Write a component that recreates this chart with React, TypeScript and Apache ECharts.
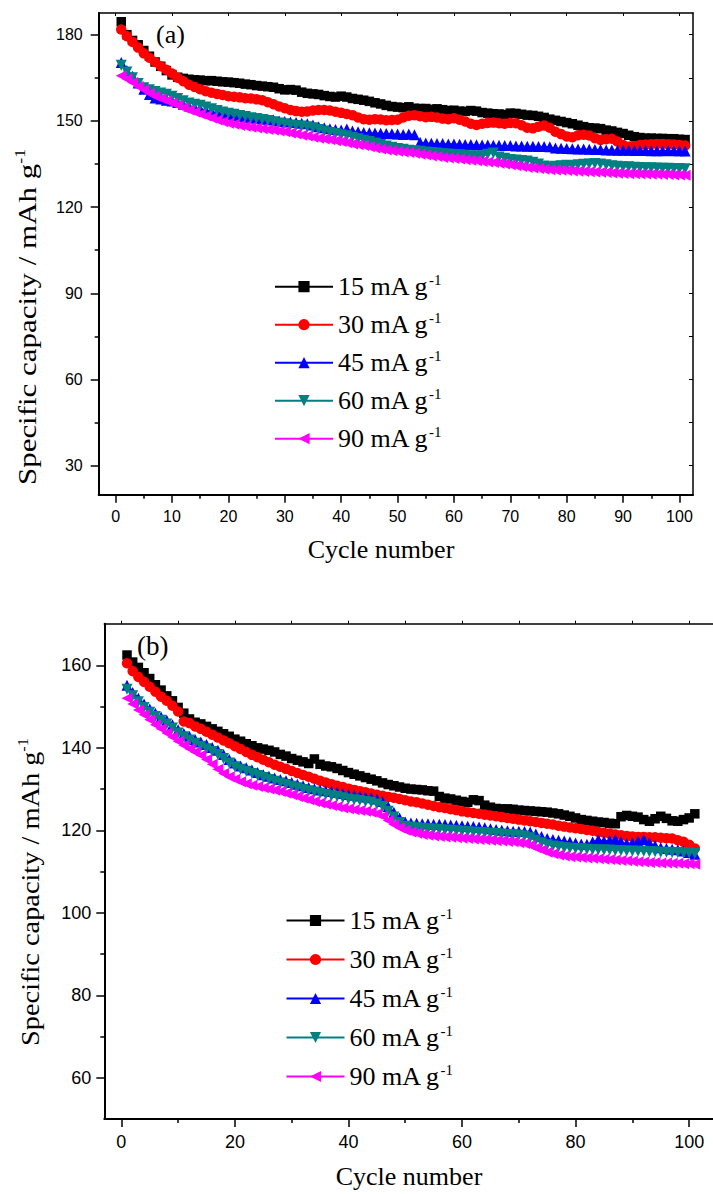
import React, { useEffect, useRef } from "react";
import * as echarts from "echarts";

const FONT_SERIF = "Liberation Serif, Times New Roman, serif";
const FONT_SANS = "Liberation Sans, Arial, sans-serif";

// x categories: cycle numbers 1..101
const cycles: number[] = Array.from({ length: 101 }, (_, i) => i + 1);

const seriesNames = ["15 mA g-1", "30 mA g-1", "45 mA g-1", "60 mA g-1", "90 mA g-1"];
const colors = ["#000000", "#ff0000", "#0000ff", "#008080", "#ff00ff"];
const symbols = ["rect", "circle", "triangle", "triangle", "triangle"];
const symbolRotations = [0, 0, 0, 180, 90];
const symbolSizes = [9.5, 10.5, 11, 11, 11];

// Tick values
const topXTicks = [0, 10, 20, 30, 40, 50, 60, 70, 80, 90, 100];
const topXMinor = [5, 15, 25, 35, 45, 55, 65, 75, 85, 95];
const topYTicks = [30, 60, 90, 120, 150, 180];
const topYMinor = [45, 75, 105, 135, 165];
const topYRight = [30, 45, 60, 75, 90, 105, 120, 135, 150, 165, 180];
const botXTicks = [0, 20, 40, 60, 80, 100];
const botXMinor = [10, 30, 50, 70, 90];
const botXTop = [0, 10, 20, 30, 40, 50, 60, 70, 80, 90, 100];
const botYTicks = [60, 80, 100, 120, 140, 160];
const botYMinor = [70, 90, 110, 130, 150];

// (a) panel data
const a15 = [184.5,180.0,178.0,176.5,174.5,172.5,170.5,169.0,167.5,166.0,
165.2,164.8,164.5,164.3,164.2,164.0,164.0,163.8,163.6,163.5,
163.3,163.1,162.8,162.6,162.3,162.1,161.9,161.7,161.2,160.8,
160.9,160.7,160.0,159.6,159.4,159.2,158.8,158.5,158.3,158.6,
158.3,157.8,157.5,157.2,156.8,156.3,155.9,155.4,155.0,154.8,
154.6,154.9,154.4,154.3,154.3,154.0,154.2,153.9,153.6,153.7,
153.4,153.3,153.6,153.4,152.9,152.7,152.5,152.4,152.2,152.7,
152.6,152.3,152.0,151.9,151.6,151.2,150.6,150.2,149.8,149.4,
149.0,148.5,148.0,147.6,147.5,147.3,146.8,146.5,146.0,145.6,
145.0,144.5,144.2,144.0,144.0,143.9,143.9,143.8,143.8,143.6,
143.5];
const a30 = [181.8,179.5,177.5,175.5,173.5,172.0,170.5,169.0,167.8,166.5,
165.0,163.8,162.6,161.8,161.0,160.3,159.8,159.4,159.0,158.6,
158.4,158.2,157.9,157.8,157.5,157.2,156.5,155.8,155.0,154.4,
153.8,153.4,153.2,153.3,153.6,153.8,153.8,153.6,153.2,152.8,
152.4,152.0,151.2,150.6,150.4,150.6,150.5,150.2,150.3,150.4,
151.2,151.8,152.0,151.6,151.3,151.4,151.2,150.8,150.6,150.9,
150.4,149.8,149.0,148.6,149.0,149.3,149.4,149.2,149.0,149.3,
149.2,148.5,147.6,147.4,148.0,148.4,147.6,146.2,145.4,144.6,
144.3,145.0,145.2,144.9,144.0,143.4,143.6,143.8,142.8,141.6,
141.0,141.3,141.6,141.8,141.9,142.0,142.0,141.9,141.8,141.6,
141.4];
const a45 = [170.3,167.5,165.5,163.2,161.0,159.2,158.0,157.6,157.2,156.9,
156.4,155.8,155.2,154.7,154.2,153.8,153.3,152.9,152.6,152.2,
151.9,151.6,151.3,151.1,150.9,150.7,150.6,150.3,150.0,149.8,
149.6,149.4,149.2,149.0,148.6,148.0,147.6,147.3,147.0,146.8,
147.2,146.5,146.2,146.0,145.9,145.8,145.7,145.6,145.5,145.4,
145.3,145.4,145.2,142.6,142.3,142.2,142.1,142.1,142.0,142.0,
141.9,141.8,141.8,141.7,141.6,141.6,141.5,141.5,141.4,141.4,
141.3,141.3,141.2,141.2,141.1,141.1,141.0,140.6,140.5,140.4,
140.3,140.2,140.2,140.1,140.0,140.0,139.9,139.9,139.8,139.8,
139.8,139.7,139.7,139.7,139.6,139.6,139.6,139.7,139.6,139.6,
139.5];
const a60 = [169.4,167.0,165.0,163.0,161.5,160.8,160.2,159.7,159.3,158.6,
157.8,157.0,156.2,155.8,155.4,154.8,154.2,153.6,153.1,152.7,
152.3,151.9,151.5,151.1,150.8,150.5,150.1,149.7,149.3,149.0,
148.6,148.4,148.2,148.0,147.6,147.0,146.5,146.0,145.6,145.2,
144.8,144.3,143.8,143.3,142.8,142.3,141.8,141.3,140.8,140.4,
140.1,139.8,139.6,139.4,139.2,139.0,138.8,138.6,138.5,138.3,
138.2,138.0,137.9,137.8,137.7,138.4,138.8,137.4,137.0,136.6,
136.4,136.2,136.0,135.6,135.0,134.3,134.0,134.2,134.4,134.6,
134.5,134.7,134.9,135.0,135.2,135.0,134.7,134.4,134.2,134.0,
134.0,133.9,133.8,133.7,133.7,133.6,133.5,133.5,133.4,133.4,
133.3];
const a90 = [165.7,164.6,163.4,162.0,160.8,159.6,158.6,157.8,157.0,156.2,
155.4,154.6,153.8,153.1,152.4,151.7,151.0,150.3,149.7,149.2,
148.8,148.4,148.1,147.8,147.5,147.3,147.0,146.8,146.5,146.2,
145.8,145.4,145.0,144.7,144.3,144.0,143.7,143.4,143.1,142.8,
142.4,142.0,141.7,141.4,141.0,140.6,140.2,139.9,139.6,139.4,
139.2,139.0,138.7,138.4,138.1,137.8,137.6,137.3,137.1,136.9,
136.7,136.5,136.3,136.1,135.9,135.7,135.5,135.3,135.0,134.7,
134.4,134.1,133.8,133.6,133.4,133.2,133.0,132.9,132.8,132.7,
132.6,132.5,132.4,132.3,132.2,132.1,132.0,131.9,131.8,131.7,
131.6,131.6,131.5,131.5,131.4,131.4,131.3,131.3,131.2,131.2,
131.1];

// (b) panel data
const b15 = [162.5,160.8,159.5,158.2,156.8,155.3,154.0,152.6,151.4,149.8,
148.4,147.0,146.2,145.8,145.2,144.6,144.0,143.4,142.8,142.1,
141.6,141.0,140.5,140.0,139.7,139.4,139.0,138.4,138.0,137.4,
137.0,136.6,136.2,137.3,136.0,135.6,135.4,135.0,134.5,134.0,
133.6,133.2,132.8,132.4,132.0,131.5,131.1,130.8,130.5,130.2,
130.0,129.9,129.8,129.6,129.5,128.2,127.8,127.6,127.3,127.0,
126.8,127.4,127.2,126.1,125.6,125.3,125.2,125.2,125.1,124.9,
124.8,124.7,124.6,124.5,124.4,124.2,124.0,123.7,123.4,123.0,
122.6,122.4,122.2,122.0,121.9,121.7,121.6,123.3,123.6,123.4,
123.2,122.6,122.2,122.8,123.4,122.9,122.3,122.2,122.6,123.0,
124.0];
const b30 = [160.5,158.6,157.2,156.0,154.8,153.6,152.4,151.4,150.2,148.8,
146.4,146.0,145.2,144.6,143.9,143.2,142.5,141.8,141.1,140.4,
139.7,139.0,138.3,137.7,137.1,136.5,135.9,135.4,134.9,134.4,
133.9,133.4,133.0,132.5,132.0,131.6,131.2,130.8,130.5,130.1,
129.8,129.5,129.2,128.9,128.6,128.4,128.1,127.9,127.6,127.3,
127.0,126.8,126.5,126.2,125.9,125.6,125.4,125.1,124.9,124.6,
124.4,124.2,124.0,123.8,123.6,123.4,123.2,123.0,122.8,122.6,
122.4,122.2,122.0,121.8,121.6,121.4,121.1,120.9,120.7,120.5,
120.3,120.1,119.9,119.6,119.4,119.2,119.0,118.8,118.6,118.5,
118.4,118.4,118.3,118.3,118.2,118.1,118.0,117.6,117.2,116.5,
115.6];
const b45 = [155.2,153.4,152.0,150.6,149.4,148.4,147.5,146.7,145.6,144.4,
143.5,142.8,142.0,141.4,140.8,140.1,139.4,138.4,137.2,136.3,
135.6,135.2,134.6,134.0,133.5,133.1,132.7,132.3,132.0,131.6,
131.2,130.8,130.4,130.1,129.8,129.6,129.4,129.2,128.9,128.7,
128.5,128.3,128.1,127.9,127.6,127.0,125.8,124.4,123.0,122.0,
121.8,121.7,121.6,121.6,121.5,121.5,121.4,121.3,121.2,121.1,
121.0,120.9,120.8,120.6,120.4,120.2,120.0,119.9,119.8,119.8,
119.7,119.6,119.1,118.5,118.0,117.8,117.6,117.4,117.2,116.9,
116.7,116.6,117.2,117.8,117.4,117.6,117.8,117.2,116.8,117.0,
117.4,117.8,117.0,116.3,115.8,115.6,115.4,115.3,115.0,114.6,
114.2];
const b60 = [154.2,152.6,151.2,149.8,148.6,147.6,146.7,145.8,144.8,143.6,
142.7,141.9,141.1,140.4,139.8,139.1,138.4,137.4,136.3,135.4,
134.8,134.3,133.8,133.3,132.8,132.3,131.9,131.5,131.1,130.7,
130.3,129.9,129.6,129.3,129.0,128.7,128.4,128.2,127.9,127.6,
127.4,127.2,127.0,126.8,126.4,125.8,124.6,123.2,121.9,121.0,
120.8,120.6,120.5,120.4,120.3,120.2,120.1,120.0,119.9,119.8,
119.7,119.6,119.5,119.4,119.3,119.2,119.1,119.0,118.9,118.8,
118.6,118.2,117.6,117.0,116.5,116.2,116.0,115.8,115.7,115.6,
115.5,115.4,115.3,115.3,115.2,115.2,115.1,115.1,115.0,115.0,
114.9,114.9,114.8,114.8,114.7,114.7,114.6,114.6,114.5,114.5,
114.4];
const b90 = [152.0,150.6,149.2,148.0,146.8,145.6,144.6,143.6,142.6,141.6,
140.6,139.8,139.0,138.2,137.2,136.0,134.8,133.8,133.0,132.4,
131.8,131.3,130.9,130.6,130.3,130.0,129.7,129.4,129.0,128.6,
128.2,127.8,127.4,127.0,126.6,126.3,126.0,125.7,125.4,125.2,
125.0,124.8,124.6,124.4,124.0,123.4,122.4,121.4,120.6,120.0,
119.6,119.3,119.0,118.8,118.6,118.5,118.4,118.3,118.2,118.1,
118.0,117.9,117.8,117.7,117.6,117.5,117.4,117.3,117.2,117.0,
116.8,116.4,115.8,115.2,114.7,114.3,114.0,113.8,113.6,113.5,
113.4,113.3,113.2,113.1,113.0,112.9,112.8,112.7,112.6,112.5,
112.4,112.3,112.2,112.2,112.1,112.1,112.0,112.0,111.9,111.9,
111.8];

const panelA = [a15, a30, a45, a60, a90];
const panelB = [b15, b30, b45, b60, b90];

const black = "#000";

function valAxis(extra: any) {
  return {
    type: "value",
    splitLine: { show: false },
    minorTick: { show: false },
    axisPointer: { show: false },
    ...extra,
  };
}

function majorAxis(gridIndex: number, min: number, max: number, ticks: number[], fontSize: number, margin: number, position: string) {
  return valAxis({
    gridIndex, min, max, position,
    axisLine: { show: true, onZero: false, lineStyle: { color: black, width: 2 } },
    axisTick: { show: true, inside: false, length: 8, customValues: ticks, lineStyle: { color: black, width: 1.5 } },
    axisLabel: { show: true, customValues: ticks, margin, fontSize, fontFamily: FONT_SANS, color: black },
  });
}

function minorAxis(gridIndex: number, min: number, max: number, ticks: number[], position: string) {
  return valAxis({
    gridIndex, min, max, position,
    axisLine: { show: false, onZero: false },
    axisTick: { show: true, inside: false, length: 4, customValues: ticks, lineStyle: { color: black, width: 1.5 } },
    axisLabel: { show: false, customValues: ticks },
  });
}

function boxAxis(gridIndex: number, min: number, max: number, ticks: number[], position: string, inside: boolean, len: number) {
  return valAxis({
    gridIndex, min, max, position,
    axisLine: { show: true, onZero: false, lineStyle: { color: black, width: 1.5 } },
    axisTick: { show: true, inside, length: len, customValues: ticks, lineStyle: { color: black, width: 1 } },
    axisLabel: { show: false, customValues: ticks },
  });
}

const legendRich = {
  a: { fontSize: 26, fontFamily: FONT_SERIF, fontWeight: "normal", color: black, lineHeight: 28 },
  s: { fontSize: 15, fontFamily: FONT_SERIF, fontWeight: "normal", color: black, lineHeight: 10, verticalAlign: "top" },
};

function legendFormatter(name: string) {
  return `{a|${name.replace(" g-1", " g")}}{s|-1}`;
}

const titleRich = {
  a: { fontSize: 26, fontFamily: FONT_SERIF, fontWeight: "normal", fill: black, lineHeight: 30 },
  s: { fontSize: 15, fontFamily: FONT_SERIF, fontWeight: "normal", fill: black, lineHeight: 12, verticalAlign: "top" },
};

export default function App() {
  const ref = useRef<HTMLDivElement>(null);

  useEffect(() => {
    if (!ref.current) return;
    const chart = echarts.init(ref.current, undefined, { renderer: "svg" });

    const A = { xMin: -3, xMax: 102.4, yMin: 19.9, yMax: 187.55 };
    const B = { xMin: -3, xMax: 104.2, yMin: 50, yMax: 170.1 };

    const gridA = { left: 98.7, top: 13, width: 594.3, height: 481.7 };
    const gridB = { left: 104.3, top: 623.7, width: 616.7, height: 495.3 };

    const series: any[] = [];
    const addPanel = (panel: number[][], axisIndex: number) => {
      panel.forEach((arr, k) => {
        series.push({
          type: "line", name: seriesNames[k], xAxisIndex: axisIndex, yAxisIndex: axisIndex,
          data: cycles.map((c, i) => [c, arr[i]]),
          symbol: symbols[k], symbolSize: symbolSizes[k], symbolRotate: symbolRotations[k],
          showSymbol: true, showAllSymbol: true,
          lineStyle: { color: colors[k], width: 1 },
          itemStyle: { color: colors[k] },
          emphasis: { disabled: true },
        });
      });
    };
    addPanel(panelA, 0);
    addPanel(panelB, 3);

    const option: any = {
      animation: false,
      backgroundColor: "#ffffff",
      grid: [
        { ...gridA, containLabel: false },
        { ...gridA, containLabel: false },
        { ...gridB, containLabel: false },
        { ...gridB, containLabel: false },
      ],
      xAxis: [
        majorAxis(0, A.xMin, A.xMax, topXTicks, 16, 14, "bottom"),
        boxAxis(0, A.xMin, A.xMax, topXTicks, "top", true, 3),
        minorAxis(1, A.xMin, A.xMax, topXMinor, "bottom"),
        majorAxis(2, B.xMin, B.xMax, botXTicks, 18, 14, "bottom"),
        boxAxis(2, B.xMin, B.xMax, botXTop, "top", false, 3),
        minorAxis(3, B.xMin, B.xMax, botXMinor, "bottom"),
      ],
      yAxis: [
        majorAxis(0, A.yMin, A.yMax, topYTicks, 16, 16, "left"),
        boxAxis(0, A.yMin, A.yMax, topYRight, "right", true, 4),
        minorAxis(1, A.yMin, A.yMax, topYMinor, "left"),
        majorAxis(2, B.yMin, B.yMax, botYTicks, 18, 13, "left"),
        minorAxis(3, B.yMin, B.yMax, botYMinor, "left"),
      ],
      legend: [
        {
          orient: "vertical", left: 274, top: 272.7, padding: 0,
          itemWidth: 58, itemHeight: 14, itemGap: 11, selectedMode: false,
          data: seriesNames, formatter: legendFormatter,
          textStyle: { color: black, fontFamily: FONT_SERIF, fontSize: 26, rich: legendRich },
        },
        {
          orient: "vertical", left: 285.5, top: 906.5, padding: 0,
          itemWidth: 58, itemHeight: 14, itemGap: 12, selectedMode: false,
          data: seriesNames, formatter: legendFormatter,
          textStyle: { color: black, fontFamily: FONT_SERIF, fontSize: 26, rich: legendRich },
        },
      ],
      graphic: [
        { type: "text", x: 156, y: 34, style: { text: "(a)", fontSize: 26, fontFamily: FONT_SERIF, fill: black, align: "left", verticalAlign: "middle" } },
        { type: "text", x: 137, y: 646, style: { text: "(b)", fontSize: 27, fontFamily: FONT_SERIF, fill: black, align: "left", verticalAlign: "middle" } },
        { type: "text", x: 381, y: 549, style: { text: "Cycle number", fontSize: 26, fontFamily: FONT_SERIF, fill: black, align: "center", verticalAlign: "middle" } },
        { type: "text", x: 409, y: 1176, style: { text: "Cycle number", fontSize: 26, fontFamily: FONT_SERIF, fill: black, align: "center", verticalAlign: "middle" } },
        { type: "text", x: 27, y: 317, rotation: Math.PI / 2, scaleX: 1.19, style: { text: "{a|Specific capacity / mAh g}{s|-1}", rich: titleRich, fontSize: 26, fontFamily: FONT_SERIF, fill: black, align: "center", verticalAlign: "middle" } },
        { type: "text", x: 30, y: 892, rotation: Math.PI / 2, scaleX: 1.09, style: { text: "{a|Specific capacity / mAh g}{s|-1}", rich: titleRich, fontSize: 26, fontFamily: FONT_SERIF, fill: black, align: "center", verticalAlign: "middle" } },
      ],
      series,
    };

    chart.setOption(option);
    return () => chart.dispose();
  }, []);

  return (
    <div
      ref={ref}
      style={{ position: "fixed", left: 0, top: 0, width: 713, height: 1194, background: "#fff" }}
    />
  );
}
